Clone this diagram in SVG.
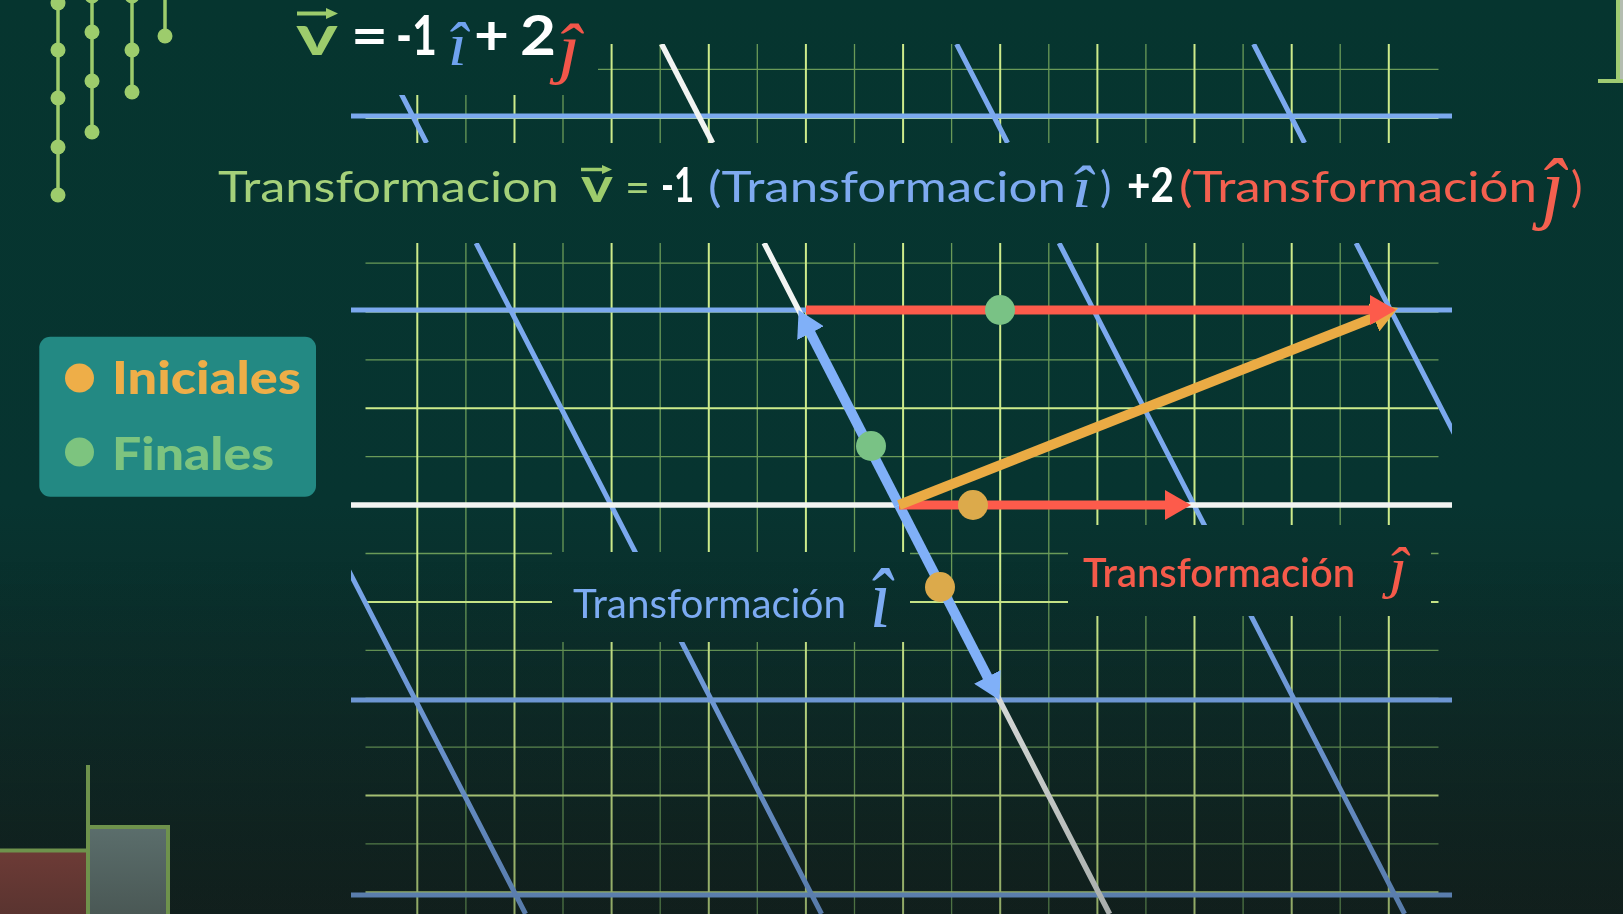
<svg xmlns="http://www.w3.org/2000/svg" width="1623" height="914" viewBox="0 0 1623 914">
<defs>
  <linearGradient id="bgG" x1="0" y1="0" x2="0" y2="914" gradientUnits="userSpaceOnUse">
    <stop offset="0" stop-color="#06352f"/>
    <stop offset="0.55" stop-color="#073430"/>
    <stop offset="1" stop-color="#13221f"/>
  </linearGradient>
  <linearGradient id="shadeG" x1="0" y1="560" x2="0" y2="914" gradientUnits="userSpaceOnUse">
    <stop offset="0" stop-color="#0e1a18" stop-opacity="0"/>
    <stop offset="1" stop-color="#0e1a18" stop-opacity="0.32"/>
  </linearGradient>
  <linearGradient id="redG" x1="0" y1="850" x2="0" y2="914" gradientUnits="userSpaceOnUse">
    <stop offset="0" stop-color="#6d3b36"/><stop offset="1" stop-color="#5a3430"/>
  </linearGradient>
  <linearGradient id="grayG" x1="0" y1="827" x2="0" y2="914" gradientUnits="userSpaceOnUse">
    <stop offset="0" stop-color="#5b6e6c"/><stop offset="1" stop-color="#4a5855"/>
  </linearGradient>
  <clipPath id="clipMain"><rect x="351" y="243" width="1101" height="671"/></clipPath>
  <clipPath id="clipTop"><polygon points="351,95 598,95 598,44 1452,44 1452,143 351,143"/></clipPath>
  <mask id="boxMask" maskUnits="userSpaceOnUse" x="0" y="0" width="1623" height="914">
    <rect width="1623" height="914" fill="#fff"/>
    <rect x="552" y="552" width="358" height="90" fill="#000"/>
    <rect x="1068" y="525" width="363" height="91" fill="#000"/>
  </mask>
  <marker id="ahB" markerUnits="userSpaceOnUse" markerWidth="26" markerHeight="30" viewBox="0 0 26 30" refX="13" refY="15" orient="auto"><path d="M0,0L26,15L0,30Z" fill="#80b0f8"/></marker>
  <marker id="ahR" markerUnits="userSpaceOnUse" markerWidth="26" markerHeight="30" viewBox="0 0 26 30" refX="13" refY="15" orient="auto"><path d="M0,0L26,15L0,30Z" fill="#fd5b4b"/></marker>
  <marker id="ahO" markerUnits="userSpaceOnUse" markerWidth="26" markerHeight="30" viewBox="0 0 26 30" refX="13" refY="15" orient="auto"><path d="M0,0L26,15L0,30Z" fill="#eaab44"/></marker>
</defs>
<style>
  .maj{stroke:#cdeb8b;stroke-width:2;fill:none}
  .min{stroke:#6a9a58;stroke-width:1.3;fill:none}
  .tb{stroke:#7ba9ee;stroke-width:5;fill:none}
  .tw{stroke:#f2f4f2;stroke-width:5.5;fill:none}
  .deco{stroke:#9dcc6c;stroke-width:3.5;fill:none}
  .decodot{fill:#9dcc6c}
  .eq{font-family:Lato,"Open Sans",sans-serif;font-weight:700}
  .tf{font-family:Lato,"Open Sans",sans-serif;font-weight:400;font-size:43px}
  .hat{font-family:"Liberation Serif","DejaVu Serif",serif;font-style:italic}
  .lbl{font-family:Lato,"Open Sans",sans-serif}
  .leg{font-family:Lato,"Open Sans",sans-serif;font-weight:900;font-size:46px}
  .green{fill:#a5d17a}
  .blue{fill:#7eaaf0}
  .red{fill:#f4604f}
  .white{fill:#ffffff}
  .arr{fill:none;stroke-linecap:butt}
</style>

<g id="background">
  <rect width="1623" height="914" fill="url(#bgG)"/>
</g>

<g id="decor-left">
  <path class="deco" d="M58 0V195M92 0V132M132 0V92M165 0V36"/>
  <circle class="decodot" cx="58" cy="3" r="7.5"/>
  <circle class="decodot" cx="58" cy="50" r="7.5"/>
  <circle class="decodot" cx="58" cy="98" r="7.5"/>
  <circle class="decodot" cx="58" cy="147" r="7.5"/>
  <circle class="decodot" cx="58" cy="195" r="7.5"/>
  <circle class="decodot" cx="92" cy="-4" r="7.5"/>
  <circle class="decodot" cx="92" cy="32" r="7.5"/>
  <circle class="decodot" cx="92" cy="81" r="7.5"/>
  <circle class="decodot" cx="92" cy="132" r="7.5"/>
  <circle class="decodot" cx="132" cy="-4" r="7.5"/>
  <circle class="decodot" cx="132" cy="50" r="7.5"/>
  <circle class="decodot" cx="132" cy="92" r="7.5"/>
  <circle class="decodot" cx="165" cy="36" r="7.5"/>
</g>

<g id="decor-topright">
  <rect x="1618" y="-10" width="20" height="91" fill="#b4bdb0" stroke="#9fcb72" stroke-width="4"/>
  <line x1="1598" y1="81" x2="1623" y2="81" stroke="#9fcb72" stroke-width="4"/>
</g>

<g id="grid-background" mask="url(#boxMask)">
  <path class="min" d="M465.9 243V914M563 243V914M660.2 243V914M757.3 243V914M854.5 243V914M951.6 243V914M1048.8 243V914M1145.9 243V914M1243.1 243V914M1340.2 243V914
  M365.5 263.1H1438.5M365.5 359.9H1438.5M365.5 456.7H1438.5M365.5 553.5H1438.5M365.5 650.3H1438.5M365.5 747.1H1438.5M365.5 843.9H1438.5
  M465.9 95V143M563 95V143M660.2 44V143M757.3 44V143M854.5 44V143M951.6 44V143M1048.8 44V143M1145.9 44V143M1243.1 44V143M1340.2 44V143
  M598 69.3H1438.5"/>
  <path class="maj" d="M417.3 243V914M514.5 243V914M611.6 243V914M708.8 243V914M805.9 243V914M903.1 243V914M1000.2 243V914M1097.4 243V914M1194.5 243V914M1291.7 243V914M1388.8 243V914
  M365.5 311.5H1438.5M365.5 408.3H1438.5M365.5 505.1H1438.5M365.5 601.9H1438.5M365.5 698.7H1438.5M365.5 795.5H1438.5M365.5 892.3H1438.5
  M417.3 95V143M514.5 95V143M611.6 44V143M708.8 44V143M805.9 44V143M903.1 44V143M1000.2 44V143M1097.4 44V143M1194.5 44V143M1291.7 44V143M1388.8 44V143
  M365.5 117.9H1438.5"/>
</g>

<g id="grid-transformed" mask="url(#boxMask)">
  <g clip-path="url(#clipMain)">
    <path class="tb" d="M351 310H1452M351 700H1452M351 895H1452M180.1 243L525.6 914M476.1 243L821.6 914M1059.1 243L1404.6 914M1356.1 243L1701.6 914"/>
    <path class="tw" d="M351 505H1452M764.1 243L1109.6 914"/>
  </g>
  <g clip-path="url(#clipTop)">
    <path class="tb" d="M351 116H1452M375.6 44L426.6 143M956.6 44L1007.6 143M1253.6 44L1304.6 143"/>
    <path class="tw" d="M661.6 44L712.6 143"/>
  </g>
</g>

<rect id="bottom-shade" x="0" y="560" width="1623" height="354" fill="url(#shadeG)"/>

<g id="decor-bottomleft">
  <rect x="-5" y="850.5" width="93" height="70" fill="url(#redG)" stroke="#6e924c" stroke-width="4"/>
  <rect x="88" y="827" width="80" height="95" fill="url(#grayG)" stroke="#6e924c" stroke-width="4"/>
  <line x1="88" y1="765" x2="88" y2="827" stroke="#6e924c" stroke-width="4"/>
</g>

<g id="connectors">
  <path id="arrow-i-down" class="arr" d="M899 505L993.4 688.4" stroke="#80b0f8" stroke-width="10" marker-end="url(#ahB)"/>
  <path id="arrow-i-up" class="arr" d="M899 505L804.6 321.6" stroke="#80b0f8" stroke-width="10" marker-end="url(#ahB)"/>
  <path id="arrow-j" class="arr" d="M899 505H1178" stroke="#fd5b4b" stroke-width="9" marker-end="url(#ahR)"/>
  <path id="arrow-v" class="arr" d="M899 505L1385.9 312.8" stroke="#eaab44" stroke-width="10" marker-end="url(#ahO)"/>
  <path id="arrow-2j" class="arr" d="M806 310H1383" stroke="#fd5b4b" stroke-width="9" marker-end="url(#ahR)"/>
</g>

<g id="points">
  <circle cx="1000" cy="310" r="15" fill="#79c285"/>
  <circle cx="871" cy="446" r="15" fill="#79c285"/>
  <circle cx="973" cy="505" r="15" fill="#dcaa4b"/>
  <circle cx="940" cy="587" r="15" fill="#dcaa4b"/>
</g>

<g id="formula-top">
  <text class="eq" x="296" y="55" font-size="56" fill="#9dcc6c" textLength="42" lengthAdjust="spacingAndGlyphs">v</text>
  <path d="M297 13.5H328" stroke="#9dcc6c" stroke-width="4"/>
  <path d="M326 8L338 13.5L326 19Z" fill="#9dcc6c"/>
  <text class="eq white" x="351" y="55" font-size="56" textLength="37" lengthAdjust="spacingAndGlyphs">=</text>
  <text class="eq white" x="396" y="55" font-size="56" textLength="41" lengthAdjust="spacingAndGlyphs">-1</text>
  <text class="hat" x="448" y="65" font-size="62" fill="#6fa2ef" textLength="19" lengthAdjust="spacingAndGlyphs">î</text>
  <text class="eq white" x="474" y="55" font-size="56" textLength="35" lengthAdjust="spacingAndGlyphs">+</text>
  <text class="eq white" x="520" y="55" font-size="56" textLength="36" lengthAdjust="spacingAndGlyphs">2</text>
  <text class="hat" x="558" y="71" font-size="68" fill="#f2564a" textLength="22" lengthAdjust="spacingAndGlyphs">ĵ</text>
</g>

<g id="formula-transform">
  <text class="tf green" x="218" y="202" textLength="341" lengthAdjust="spacingAndGlyphs">Transformacion</text>
  <text class="eq" x="581" y="202" font-size="48" fill="#9dcc6c" textLength="32" lengthAdjust="spacingAndGlyphs">v</text>
  <path d="M581 169.5H604" stroke="#9dcc6c" stroke-width="3.5"/>
  <path d="M602 165L612 169.5L602 174Z" fill="#9dcc6c"/>
  <text class="tf green" x="625" y="202" textLength="25" lengthAdjust="spacingAndGlyphs">=</text>
  <text class="eq white" x="661" y="202" font-size="48" textLength="33" lengthAdjust="spacingAndGlyphs">-1</text>
  <text class="tf blue" x="708" y="202" textLength="358" lengthAdjust="spacingAndGlyphs">(Transformacion</text>
  <text class="hat blue" x="1072" y="207" font-size="60" textLength="20" lengthAdjust="spacingAndGlyphs">î</text>
  <text class="tf blue" x="1100" y="202">)</text>
  <text class="eq white" x="1127" y="202" font-size="48" textLength="47" lengthAdjust="spacingAndGlyphs">+2</text>
  <text class="tf red" x="1179" y="202" textLength="358" lengthAdjust="spacingAndGlyphs">(Transformación</text>
  <text class="hat red" x="1541" y="214" font-size="80" textLength="23" lengthAdjust="spacingAndGlyphs">ĵ</text>
  <text class="tf red" x="1571" y="202">)</text>
</g>

<g id="label-i">
  <text class="lbl" x="573" y="618" font-size="40" fill="#7cabf2" textLength="273" lengthAdjust="spacingAndGlyphs">Transformación</text>
  <text class="hat" x="870" y="627" font-size="84" fill="#7cabf2" textLength="21" lengthAdjust="spacingAndGlyphs">î</text>
</g>

<g id="label-j">
  <text class="lbl" x="1083" y="587" font-size="41" font-weight="600" fill="#f55a4a" textLength="272" lengthAdjust="spacingAndGlyphs">Transformación</text>
  <text class="hat" x="1389" y="587" font-size="56" fill="#f55a4a" textLength="18" lengthAdjust="spacingAndGlyphs">ĵ</text>
</g>

<g id="legend">
  <rect x="39.3" y="336.7" width="276.7" height="160" rx="11" fill="#238983"/>
  <circle cx="79.5" cy="378" r="14.5" fill="#eeae48"/>
  <text class="leg" x="112" y="394" fill="#eeae48" textLength="189" lengthAdjust="spacingAndGlyphs">Iniciales</text>
  <circle cx="79.5" cy="452" r="14.5" fill="#7dc47f"/>
  <text class="leg" x="112" y="470" fill="#7dc47f" textLength="162" lengthAdjust="spacingAndGlyphs">Finales</text>
</g>
</svg>
